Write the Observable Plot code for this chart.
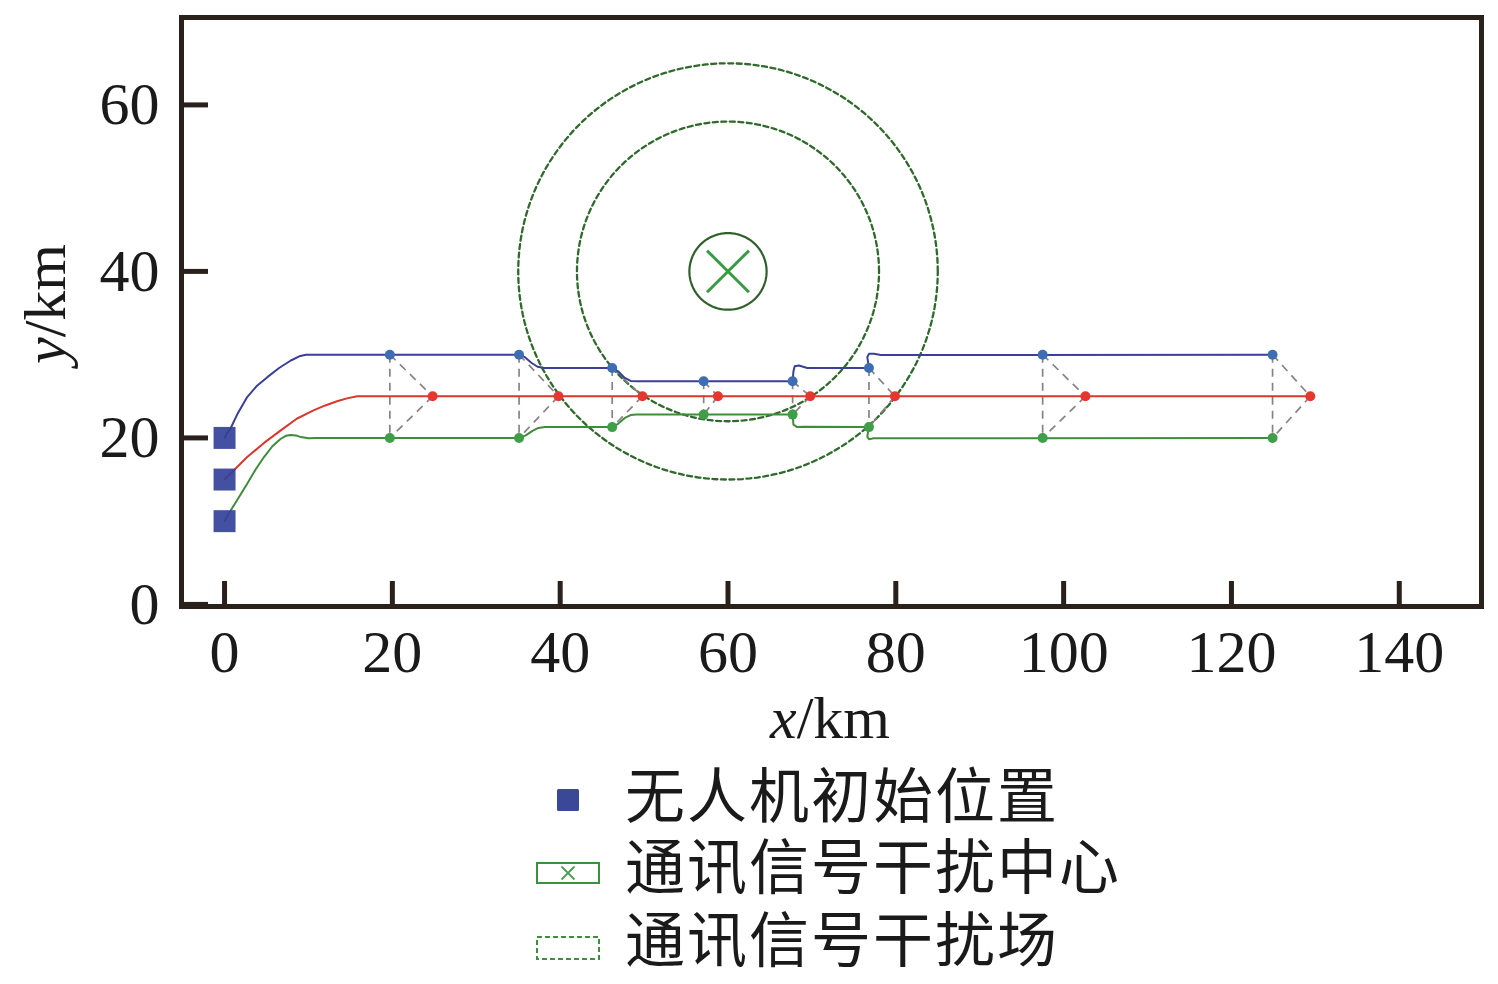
<!DOCTYPE html>
<html>
<head>
<meta charset="utf-8">
<script src="https://cdn.jsdelivr.net/npm/d3@7"></script>
<script src="https://cdn.jsdelivr.net/npm/@observablehq/plot@0.6"></script>
<style>
  @font-face {
    font-family: "CJKTight";
    src: local("Noto Sans CJK SC"), local("Noto Sans CJK SC Regular"), local("NotoSansCJKsc-Regular"), local("NotoSansCJKSC-Regular");
    ascent-override: 88%; descent-override: 12%; line-gap-override: 0%;
  }
  html, body { margin: 0; padding: 0; background: #fff; }
  body { width: 1498px; height: 984px; position: relative; overflow: hidden; }
  #chart { position: absolute; left: 0; top: 0; }
  .lg-sym { position: absolute; }
  .lg-txt { position: absolute; left: 625px; height: 66px; line-height: 66px;
            font-family: "CJKTight", "Noto Sans CJK SC", sans-serif; font-size: 60px; letter-spacing: 2px;
            color: #1a1a1a; white-space: nowrap; }
</style>
</head>
<body>
<div id="chart"></div>
<div id="legend"></div>
<script>
// ---------------- data ----------------
const xTicks = [0, 20, 40, 60, 80, 100, 120, 140];
const yTicks = [0, 20, 40, 60];

// initial UAV positions
const startX = [0, 0, 0];
const startY = [20, 15, 10];

// trajectories (x, y) in km
const blueTrack = [[0,20],[0.3,20.6],[0.7,21.1],[1.5,22.8],[2.7,24.9],[3.8,26.2],[5.1,27.3],[6.5,28.4],[7.9,29.3],[8.9,29.8],[9.7,30],[35.1,30],[35.8,29.7],[36.6,29.0],[37.3,28.55],[38.1,28.4],[46.2,28.4],[46.9,28.0],[47.7,27.2],[48.4,26.85],[49.1,26.8],[67.7,26.8],[67.8,28.0],[67.95,28.6],[68.45,28.7],[69.45,28.4],[76.8,28.4],[76.6,29.7],[76.8,30.1],[77.4,30.1],[78.2,29.95],[124.9,30]];
const redTrack = [[0,15],[1.3,16.3],[2.7,17.7],[4.7,19.4],[6.7,20.9],[8.6,22.3],[10.6,23.3],[12.0,23.9],[13.4,24.4],[14.6,24.75],[15.8,25],[129.4,25]];
const greenTrack = [[0,10],[0.5,10.9],[1.6,12.7],[2.7,14.5],[3.7,16.2],[4.7,17.7],[5.7,19.0],[6.7,19.9],[7.3,20.25],[7.9,20.35],[8.5,20.3],[9.1,20.1],[10.0,19.95],[11,20],[35.1,20],[35.9,20.3],[36.7,20.85],[37.4,21.2],[38.2,21.3],[46.2,21.3],[46.9,21.7],[47.7,22.4],[48.4,22.75],[49.1,22.8],[67.7,22.8],[67.8,21.6],[68.25,21.3],[69.0,21.35],[76.8,21.3],[76.6,20.15],[76.8,19.85],[77.35,19.95],[124.9,20]];

// formation waypoints
const sideDotX  = [19.7, 35.1, 46.2, 57.1, 67.7, 76.8, 97.5, 124.9];
const blueDotY  = [30, 30, 28.4, 26.8, 26.8, 28.4, 30, 30];
const greenDotY = [20, 20, 21.3, 22.8, 22.8, 21.3, 20, 20];
const redDotX   = [24.8, 39.8, 49.8, 58.8, 69.8, 79.9, 102.6, 129.4];
const redDotY   = [25, 25, 25, 25, 25, 25, 25, 25];

// interference
const jamCenter = [60, 40];
const jamRadii = [18, 25];
const markerRadius = 4.6;
const crossHalf = 2.5;

// ---------------- derived tables ----------------
const C = { blueLine: "#3b3f97", redLine: "#d8382f", greenLine: "#3f8c3a",
            blueDot: "#3e6db4", redDot: "#e5372f", greenDot: "#3e9f48" };

const tracks = [
  ...blueTrack.map(([x, y]) => ({uav: "b", x, y, color: C.blueLine})),
  ...redTrack.map(([x, y]) => ({uav: "r", x, y, color: C.redLine})),
  ...greenTrack.map(([x, y]) => ({uav: "g", x, y, color: C.greenLine}))
];
const starts = startX.map((x, i) => ({x, y: startY[i]}));
const dots = [
  ...sideDotX.map((x, i) => ({x, y: blueDotY[i], color: C.blueDot})),
  ...sideDotX.map((x, i) => ({x, y: greenDotY[i], color: C.greenDot})),
  ...redDotX.map((x, i) => ({x, y: redDotY[i], color: C.redDot}))
];
const links = sideDotX.flatMap((x, i) => [
  {x1: x, y1: blueDotY[i], x2: x, y2: greenDotY[i]},
  {x1: x, y1: blueDotY[i], x2: redDotX[i], y2: redDotY[i]},
  {x1: redDotX[i], y1: redDotY[i], x2: x, y2: greenDotY[i]}
]);
const ringPts = (r, key) => d3.range(0, 361, 2).map(a => ({
  ring: key, x: jamCenter[0] + r * Math.cos(a * Math.PI / 180),
  y: jamCenter[1] + r * Math.sin(a * Math.PI / 180)}));
const rings = jamRadii.flatMap((r, i) => ringPts(r, "r" + i));
const marker = ringPts(markerRadius, "m");
const cross = [
  {x1: jamCenter[0] - crossHalf, y1: jamCenter[1] + crossHalf, x2: jamCenter[0] + crossHalf, y2: jamCenter[1] - crossHalf},
  {x1: jamCenter[0] - crossHalf, y1: jamCenter[1] - crossHalf, x2: jamCenter[0] + crossHalf, y2: jamCenter[1] + crossHalf}
];

const ink = "#2a211d";
const serif = "Liberation Serif, Times New Roman, serif";

const plot = Plot.plot({
  width: 1498, height: 760,
  marginTop: 17, marginLeft: 181, marginRight: 17, marginBottom: 154,
  x: {domain: [-5.13, 149.8], label: null},
  y: {domain: [-0.25, 70.5], label: null},
  color: {type: "identity"},
  style: {background: "white", overflow: "visible"},
  marks: [
    Plot.line(rings, {x: "x", y: "y", z: "ring", stroke: "#2f6a2c", strokeWidth: 2.3, strokeDasharray: "5,3.5"}),
    Plot.line(marker, {x: "x", y: "y", stroke: "#2f5f2b", strokeWidth: 2.2}),
    Plot.link(cross, {x1: "x1", y1: "y1", x2: "x2", y2: "y2", stroke: "#3a9a45", strokeWidth: 3}),
    Plot.link(links, {x1: "x1", y1: "y1", x2: "x2", y2: "y2", stroke: "#8a8282", strokeWidth: 1.7, strokeDasharray: "8,6"}),
    Plot.line(tracks, {x: "x", y: "y", z: "uav", stroke: "color", strokeWidth: 2, curve: "linear", strokeLinejoin: "round"}),
    Plot.dot(starts, {x: "x", y: "y", symbol: "square", r: 12.4, fill: "#34419a", fillOpacity: 0.92}),
    Plot.dot(dots, {x: "x", y: "y", fill: "color", r: 5}),
    Plot.ruleX(xTicks, {x: d => d, insetTop: 564, stroke: ink, strokeWidth: 5}),
    Plot.ruleY(yTicks, {y: d => d, insetRight: 1273, stroke: ink, strokeWidth: 5}),
    Plot.frame({stroke: ink, strokeWidth: 5}),
    Plot.axisX(xTicks, {tickSize: 0, tickPadding: 23, fontSize: 60, fontFamily: serif, fill: "#1a1a1a", label: null}),
    Plot.axisY(yTicks, {tickSize: 0, tickPadding: 22, fontSize: 60, fontFamily: serif, fill: "#1a1a1a", label: null})
  ]
});
document.getElementById("chart").appendChild(plot);

// axis titles with italic variable
const svg = d3.select(plot);
const xt = svg.append("text").attr("x", 830).attr("y", 738).attr("text-anchor", "middle")
  .attr("font-family", serif).attr("font-size", 60).attr("fill", "#1a1a1a");
xt.append("tspan").attr("font-style", "italic").text("x");
xt.append("tspan").text("/km");
const yt = svg.append("text").attr("transform", "translate(65,304) rotate(-90)").attr("text-anchor", "middle")
  .attr("font-family", serif).attr("font-size", 60).attr("fill", "#1a1a1a");
yt.append("tspan").attr("font-style", "italic").text("y");
yt.append("tspan").text("/km");

// ---------------- legend ----------------
const legendLabels = ["无人机初始位置", "通讯信号干扰中心", "通讯信号干扰场"];
const legend = document.getElementById("legend");
legend.innerHTML = `
  <svg class="lg-sym" style="left:556px;top:788px" width="24" height="24"><rect x="1" y="1" width="22" height="22" rx="1.5" fill="#3b4797"/></svg>
  <svg class="lg-sym" style="left:535px;top:861px" width="67" height="25">
    <rect x="2" y="2" width="62" height="20" fill="none" stroke="#3e8f3e" stroke-width="2"/>
    <path d="M26.5 5.5 L39.5 18.5 M26.5 18.5 L39.5 5.5" stroke="#4aa04e" stroke-width="1.8"/>
  </svg>
  <svg class="lg-sym" style="left:535px;top:935px" width="67" height="27">
    <rect x="2" y="2" width="62" height="22" fill="none" stroke="#3e8f3e" stroke-width="2" stroke-dasharray="5,3"/>
  </svg>
  <div class="lg-txt" style="top:762px">${legendLabels[0]}</div>
  <div class="lg-txt" style="top:832.5px">${legendLabels[1]}</div>
  <div class="lg-txt" style="top:906px">${legendLabels[2]}</div>
`;
</script>
</body>
</html>
